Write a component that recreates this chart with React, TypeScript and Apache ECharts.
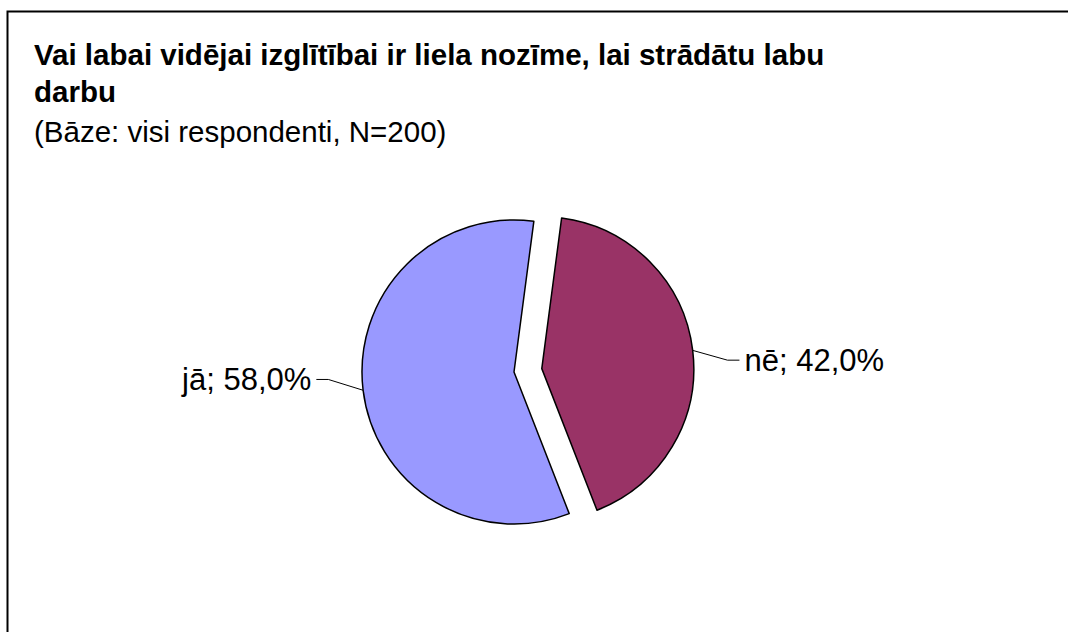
import React, { useEffect, useRef } from "react";
import * as echarts from "echarts";

const categories = ["nē", "jā"];
const values = [42.0, 58.0];
const colors = ["#993366", "#9999FF"];
const exploded = [true, false];

const titleLines = ["Vai labai vidējai izglītībai ir liela nozīme, lai strādātu labu", "darbu"];
const subtitle = "(Bāze: visi respondenti, N=200)";

const FONT = "'Liberation Sans', Arial, sans-serif";
const labelShift = [14, -15];

export default function App() {
  const ref = useRef<HTMLDivElement>(null);
  useEffect(() => {
    document.body.style.margin = "0";
    const chart = echarts.init(ref.current!, null, { renderer: "svg" });
    chart.setOption({
      animation: false,
      backgroundColor: "#ffffff",
      title: {
        text: titleLines.join("\n"),
        subtext: subtitle,
        left: 29,
        top: 31,
        itemGap: 4,
        textStyle: { fontFamily: FONT, fontSize: 29.5, fontWeight: "bold", color: "#000", lineHeight: 37 },
        subtextStyle: { fontFamily: FONT, fontSize: 29.5, color: "#000", lineHeight: 34 },
      },
      graphic: [
        {
          type: "rect",
          left: 5,
          top: 9,
          shape: { width: 1100, height: 700 },
          style: { fill: "none", stroke: "#000", lineWidth: 2 },
          silent: true,
        },
      ],
      series: [
        {
          type: "pie",
          center: [514, 372],
          radius: 152,
          startAngle: 82.5,
          clockwise: true,
          selectedMode: "multiple",
          selectedOffset: 28,
          avoidLabelOverlap: false,
          itemStyle: { borderColor: "#000", borderWidth: 1.5 },
          label: {
            show: true,
            formatter: (p: any) => `${p.name}; ${p.value.toFixed(1).replace(".", ",")}%`,
            fontFamily: FONT,
            fontSize: 31,
            color: "#000",
            distanceToLabelLine: 5,
          },
          labelLine: {
            show: true,
            length: 35,
            length2: 12,
            lineStyle: { color: "#000", width: 1 },
          },
          labelLayout: (p: any) => {
            const dy = labelShift[p.dataIndex];
            const pts = p.labelLinePoints;
            if (!pts) return { dy };
            return {
              dy,
              labelLinePoints: [
                [pts[0][0], pts[0][1]],
                [pts[1][0], pts[1][1] + dy],
                [pts[2][0], pts[2][1] + dy],
              ],
            };
          },
          emphasis: { disabled: true },
          data: categories.map((c, i) => ({
            name: c,
            value: values[i],
            selected: exploded[i],
            itemStyle: { color: colors[i] },
          })),
        },
      ],
    });
    return () => chart.dispose();
  }, []);
  return <div ref={ref} style={{ width: 1068, height: 632 }} />;
}
